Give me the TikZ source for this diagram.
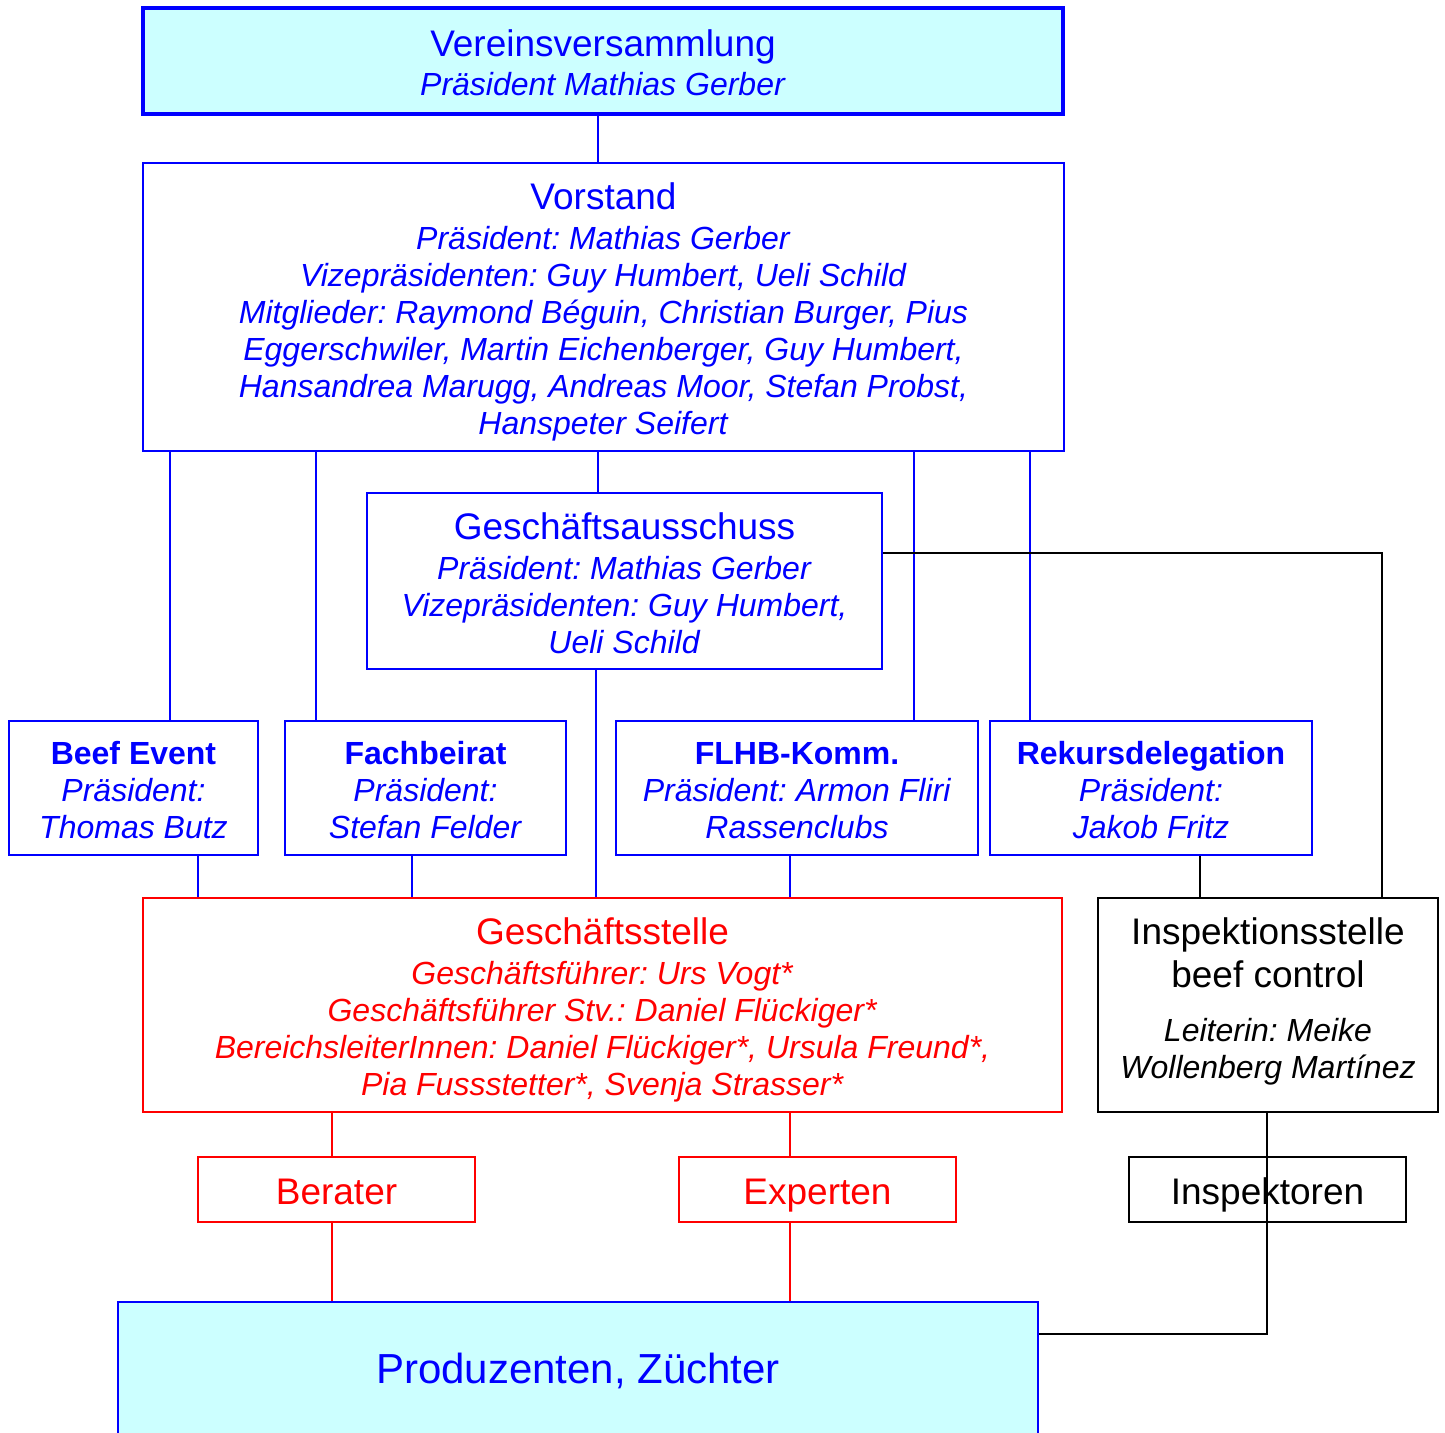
\documentclass[tikz,border=0pt]{standalone}
\usepackage{fontspec}
\setmainfont{Liberation Sans}
\frenchspacing
\definecolor{hellblau}{HTML}{CCFFFF}
\newcommand{\titel}[1]{{\fontsize{18.5}{20}\selectfont #1}}
\newcommand{\hoch}[1]{\rule{0pt}{#1}}

\begin{document}
\begin{tikzpicture}[x=0.5pt,y=-0.5pt]
	\tikzstyle{kasten}=[draw,align=center,inner sep=0pt,font=\fontsize{16}{18.5}\selectfont]
	\tikzstyle{blaukasten}=[kasten,draw=blue,text=blue,line width=1.2pt]
	\tikzstyle{rotkasten}=[kasten,draw=red,text=red,line width=1pt]
	\tikzstyle{schwarzkasten}=[kasten,draw=black,text=black,line width=1.2pt]
	\tikzstyle{klein}=[minimum width=138.5pt,minimum height=32.5pt,text height=18.5pt,text depth=4pt,font=\fontsize{18.5}{20}\selectfont]
	\tikzstyle{blaulinie}=[draw=blue,line width=0.75pt]
	\tikzstyle{rotlinie}=[draw=red,line width=0.75pt]
	\tikzstyle{schwarzlinie}=[draw=black,line width=1pt]
	\useasboundingbox (0,0) rectangle (1445,1432);
	\node[blaukasten,fill=hellblau,line width=2pt,minimum width=460pt,minimum height=53pt] (vv) at (603,61) {\hoch{15pt}\titel{Vereinsversammlung}\\[1pt] \textit{Präsident Mathias Gerber}};
	\node[blaukasten,minimum width=460.5pt,minimum height=144pt] (vorstand) at (603.5,307) {\hoch{18pt}\titel{Vorstand}\\[1.5pt] \textit{Präsident: Mathias Gerber}\\ \textit{Vizepräsidenten: Guy Humbert, Ueli Schild}\\ \textit{Mitglieder: Raymond Béguin, Christian Burger, Pius}\\ \textit{Eggerschwiler, Martin Eichenberger, Guy Humbert,}\\ \textit{Hansandrea Marugg, Andreas Moor, Stefan Probst,}\\ \textit{Hanspeter Seifert}};
	\node[blaukasten,minimum width=257.5pt,minimum height=88pt] (ga) at (624.5,581) {\hoch{16pt}\titel{Geschäftsausschuss}\\[1.5pt] \textit{Präsident: Mathias Gerber}\\ \textit{Vizepräsidenten: Guy Humbert,}\\ \textit{Ueli Schild}};
	\node[blaukasten,minimum width=124.5pt,minimum height=67pt] (beef) at (133.5,788) {\hoch{14pt}\textbf{Beef Event}\\ \textit{Präsident:}\\ \textit{Thomas Butz}};
	\node[blaukasten,minimum width=140.5pt,minimum height=67pt] (fach) at (425.5,788) {\hoch{14pt}\textbf{Fachbeirat}\\ \textit{Präsident:}\\ \textit{Stefan Felder}};
	\node[blaukasten,minimum width=181pt,minimum height=67pt] (flhb) at (797,788) {\hoch{14pt}\textbf{FLHB-Komm.}\\ \textit{Präsident: Armon Fliri}\\ \textit{Rassenclubs}};
	\node[blaukasten,minimum width=161pt,minimum height=67pt] (rekurs) at (1151,788) {\hoch{14pt}\textbf{Rekursdelegation}\\ \textit{Präsident:}\\ \textit{Jakob Fritz}};
	\node[rotkasten,minimum width=459.5pt,minimum height=107pt] (gs) at (602.5,1005) {\hoch{18.5pt}\titel{Geschäftsstelle}\\[1.5pt] \textit{Geschäftsführer: Urs Vogt*}\\ \textit{Geschäftsführer Stv.: Daniel Flückiger*}\\ \textit{BereichsleiterInnen: Daniel Flückiger*, Ursula Freund*,}\\ \textit{Pia Fussstetter*, Svenja Strasser*}};
	\node[schwarzkasten,minimum width=170pt,minimum height=107pt] (is) at (1268,1005) {\titel{Inspektionsstelle}\\[3pt] \titel{beef control}\\[8.5pt] \textit{Leiterin: Meike}\\ \textit{Wollenberg Martínez}\rule[-7pt]{0pt}{0pt}};
	\node[rotkasten,klein] (berater) at (336.5,1189.5) {Berater};
	\node[rotkasten,klein] (experten) at (817.5,1189.5) {Experten};
	\node[schwarzkasten,klein] (insp) at (1267.5,1189.5) {Inspektoren};
	\node[blaukasten,fill=hellblau,line width=1pt,minimum width=460pt,minimum height=69pt,font=\fontsize{21}{24}\selectfont] (prod) at (578,1371) {Produzenten, Züchter};
	\coordinate (knick) at (1267,1334);
	\draw[blaulinie] (598,0 |- vv.south) -- (598,0 |- vorstand.north);
	\draw[blaulinie] (170,0 |- vorstand.south) -- (170,0 |- beef.north);
	\draw[blaulinie] (316,0 |- vorstand.south) -- (316,0 |- fach.north);
	\draw[blaulinie] (598,0 |- vorstand.south) -- (598,0 |- ga.north);
	\draw[blaulinie] (914,0 |- vorstand.south) -- (914,0 |- flhb.north);
	\draw[blaulinie] (1030,0 |- vorstand.south) -- (1030,0 |- rekurs.north);
	\draw[schwarzlinie] (ga.east |- 0,553) -| (1382,0 |- is.north);
	\draw[blaulinie] (596,0 |- ga.south) -- (596,0 |- gs.north);
	\draw[blaulinie] (198,0 |- beef.south) -- (198,0 |- gs.north);
	\draw[blaulinie] (412,0 |- fach.south) -- (412,0 |- gs.north);
	\draw[blaulinie] (790,0 |- flhb.south) -- (790,0 |- gs.north);
	\draw[schwarzlinie] (1200,0 |- rekurs.south) -- (1200,0 |- is.north);
	\draw[rotlinie] (332,0 |- gs.south) -- (332,0 |- berater.north);
	\draw[rotlinie] (790,0 |- gs.south) -- (790,0 |- experten.north);
	\draw[rotlinie] (332,0 |- berater.south) -- (332,0 |- prod.north);
	\draw[rotlinie] (790,0 |- experten.south) -- (790,0 |- prod.north);
	\draw[schwarzlinie] (knick |- is.south) -- (knick) -- (knick -| prod.east);
\end{tikzpicture}
\end{document}
